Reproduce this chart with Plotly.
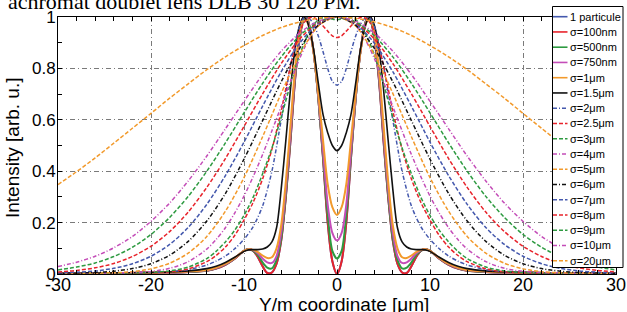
import plotly.graph_objects as go

# ---------------- data (half profiles, x >= 0; the chart is symmetric) ----------------
X_NARROW = [0, 0.5, 1, 1.5, 2, 2.5, 3, 3.3, 3.6, 4, 4.5, 5, 5.5, 6, 6.5, 7, 7.5,
            8, 8.5, 9, 9.5, 10, 11, 12, 13, 14, 16, 18, 20, 22, 25, 30]
X_MID = [0, 0.5, 1, 1.5, 2, 2.5, 3, 3.5, 4, 4.5, 5, 6, 7, 8, 9, 10, 11, 12, 13,
         14, 16, 18, 20, 22, 25, 30]
X_WIDE = [0, 2, 4, 6, 8, 10, 12, 14, 16, 18, 20, 22, 24, 26, 28, 30]

Y_1PART = [0, .05, .2, .45, .68, .86, .97, 1.0, .99, .92, .76, .52, .30, .13, .04, .006, .004,
           .03, .065, .09, .097, .09, .06, .036, .021, .013, .008, .006, .005, .004, .003, .002]
Y_100NM = [0, .05, .2, .45, .68, .86, .97, 1.0, .99, .92, .76, .52, .30, .13, .04, .006, .004,
           .03, .065, .09, .097, .09, .06, .036, .021, .013, .008, .006, .005, .004, .003, .002]
Y_500NM = [.06, .09, .23, .46, .68, .86, .97, 1.0, .99, .925, .77, .535, .31, .14, .055, .022, .025,
           .045, .073, .09, .097, .09, .061, .037, .022, .014, .008, .006, .005, .004, .003, .002]
Y_750NM = [.13, .16, .27, .48, .69, .86, .965, .995, 1.0, .93, .78, .55, .33, .16, .07, .043, .045,
           .06, .08, .092, .096, .09, .062, .038, .023, .015, .009, .006, .005, .004, .003, .002]
Y_1UM = [.23, .26, .35, .52, .70, .86, .96, .99, 1.0, .94, .80, .58, .36, .19, .10, .065, .062,
         .072, .085, .094, .096, .09, .063, .04, .025, .016, .01, .007, .005, .004, .003, .002]
Y_1P5UM = [.48, .50, .55, .62, .74, .87, .96, .99, 1.0, .97, .88, .72, .52, .33, .18, .125, .105,
           .097, .095, .095, .094, .088, .065, .045, .03, .021, .012, .008, .006, .005, .004, .003]

Y_2UM = [.735, .75, .80, .865, .925, .97, .995, .998, .965, .90, .81, .60, .40, .265, .185, .135,
         .098, .07, .05, .035, .017, .009, .006, .004, .003, .002]
Y_2P5UM = [.92, .927, .945, .965, .985, .998, .997, .98, .945, .885, .81, .635, .485, .37, .28, .21,
           .15, .105, .072, .048, .02, .009, .005, .004, .003, .002]
Y_3UM = [.99, .992, .995, .997, .99, .97, .94, .90, .855, .80, .74, .61, .49, .39, .30, .228,
         .17, .125, .088, .06, .027, .012, .006, .004, .003, .002]
Y_4UM = [1.0, .998, .993, .983, .967, .945, .915, .88, .84, .795, .748, .652, .557, .465, .38, .303,
         .237, .18, .134, .097, .048, .022, .01, .006, .004, .003]

Y_5UM = [1, .965, .855, .703, .534, .375, .244, .146, .081, .042, .020, .009, .005, .004, .003, .003]
Y_6UM = [1, .968, .879, .748, .597, .447, .313, .206, .127, .073, .040, .021, .011, .006, .004, .003]
Y_7UM = [1, .974, .899, .787, .653, .513, .383, .271, .181, .115, .069, .040, .022, .012, .007, .004]
Y_8UM = [1, .978, .915, .819, .701, .574, .449, .337, .241, .165, .108, .068, .041, .024, .014, .008]
Y_9UM = [1, .981, .928, .845, .742, .627, .510, .400, .302, .220, .154, .104, .068, .043, .027, .016]
Y_10UM = [1, .984, .938, .867, .776, .672, .565, .459, .362, .276, .205, .146, .102, .069, .046, .029]
Y_20UM = [1, .995, .981, .959, .928, .889, .845, .795, .740, .684, .625, .567, .509, .452, .398, .348]

NAMES = ["1 particule", "σ=100nm", "σ=500nm", "σ=750nm", "σ=1μm", "σ=1.5μm", "σ=2μm",
         "σ=2.5μm", "σ=3μm", "σ=4μm", "σ=5μm", "σ=6μm", "σ=7μm", "σ=8μm", "σ=9μm",
         "σ=10μm", "σ=20μm"]

X_TICKS = [-30, -20, -10, 0, 10, 20, 30]
X_TICK_TEXT = ["-30", "-20", "-10", "0", "10", "20", "30"]
Y_TICKS = [0, 0.2, 0.4, 0.6, 0.8, 1.0]
Y_TICK_TEXT = ["0", "0.2", "0.4", "0.6", "0.8", "1"]

# ---------------- styles ----------------
BLUE, RED, GREEN, MAG, ORA, BLK = "#4458ad", "#e8232b", "#2d9a40", "#c44db8", "#f29a2c", "#111111"
DASH = "4px,2px"
DDOT = "4px,2px,1px,2px"

SERIES = [
    (X_NARROW, Y_1PART, BLUE, "solid", 2.0),
    (X_NARROW, Y_100NM, RED, "solid", 2.0),
    (X_NARROW, Y_500NM, GREEN, "solid", 2.0),
    (X_NARROW, Y_750NM, MAG, "solid", 2.0),
    (X_NARROW, Y_1UM, ORA, "solid", 2.0),
    (X_NARROW, Y_1P5UM, BLK, "solid", 1.6),
    (X_MID, Y_2UM, BLUE, DDOT, 1.5),
    (X_MID, Y_2P5UM, RED, DASH, 1.5),
    (X_MID, Y_3UM, GREEN, DASH, 1.5),
    (X_MID, Y_4UM, MAG, DDOT, 1.5),
    (X_WIDE, Y_5UM, ORA, DASH, 1.5),
    (X_WIDE, Y_6UM, BLK, DDOT, 1.5),
    (X_WIDE, Y_7UM, BLUE, DASH, 1.5),
    (X_WIDE, Y_8UM, RED, DASH, 1.5),
    (X_WIDE, Y_9UM, GREEN, DASH, 1.5),
    (X_WIDE, Y_10UM, MAG, DDOT, 1.5),
    (X_WIDE, Y_20UM, ORA, DASH, 1.5),
]


def mirror(xs, ys):
    return [-v for v in reversed(xs[1:])] + list(xs), list(reversed(ys[1:])) + list(ys)


fig = go.Figure()
for name, (xs, ys, col, dash, w) in zip(NAMES, SERIES):
    fx, fy = mirror(xs, ys)
    fig.add_trace(go.Scatter(x=fx, y=fy, mode="lines", name=name, showlegend=False,
                             line=dict(color=col, dash=dash, width=w, shape="spline", smoothing=0.8)))

# ---------------- layout geometry (pixels) ----------------
W, H = 627, 312
L, R, T, B = 58, 11, 17, 38
PW, PH = W - L - R, H - T - B


def xp(px):
    return (px - L) / PW


def yp(py):
    return (H - B - py) / PH


FONT = "Liberation Sans, Arial, sans-serif"
GRID = dict(showgrid=True, gridcolor="#7a7a7a", gridwidth=1, griddash="5px,3px,1px,3px")

fig.update_layout(
    width=W, height=H, margin=dict(l=L, r=R, t=T, b=B, autoexpand=False),
    paper_bgcolor="white", plot_bgcolor="white", showlegend=False,
    font=dict(family=FONT, color="black"),
    xaxis=dict(range=[-30, 30], tickmode="array", tickvals=X_TICKS, ticktext=X_TICK_TEXT,
               ticks="inside", ticklen=4, tickcolor="black", showline=True, linecolor="black",
               linewidth=1, mirror="ticks", zeroline=False, automargin=False,
               ticklabelstandoff=-6, tickfont=dict(size=18, color="black"),
               minor=dict(tickmode="array", tickvals=[v for v in range(-28, 30, 2) if v % 10],
                          ticks="inside", ticklen=4, tickcolor="black", showgrid=False),
               **GRID),
    yaxis=dict(range=[0, 1], tickmode="array", tickvals=Y_TICKS, ticktext=Y_TICK_TEXT,
               ticks="inside", ticklen=4, tickcolor="black", showline=True, linecolor="black",
               linewidth=1, mirror="ticks", zeroline=False, automargin=False,
               ticklabelstandoff=-2, tickfont=dict(size=17, color="black"),
               minor=dict(tickmode="array", tickvals=[0.1, 0.3, 0.5, 0.7, 0.9],
                          ticks="inside", ticklen=4, tickcolor="black", showgrid=False),
               **GRID),
)

shapes = [dict(type="rect", xref="paper", yref="paper", x0=xp(552.5), x1=xp(623),
               y0=yp(267.5), y1=yp(6.5), fillcolor="white", line=dict(color="black", width=1),
               layer="above")]
annotations = []
for i, (name, (xs, ys, col, dash, w)) in enumerate(zip(NAMES, SERIES)):
    py = 16.7 + 15.25 * i
    shapes.append(dict(type="line", xref="paper", yref="paper", x0=xp(553), x1=xp(567.5),
                       y0=yp(py), y1=yp(py), line=dict(color=col, dash=dash, width=min(w, 1.6)),
                       layer="above"))
    annotations.append(dict(text=name, xref="paper", yref="paper", x=xp(567.5), y=yp(py),
                            xanchor="left", yanchor="middle", showarrow=False,
                            font=dict(size=11, family=FONT, color="black")))

annotations += [
    dict(text="achromat doublet lens DLB 30 120 PM.", xref="paper", yref="paper",
         x=xp(6), y=yp(16), xanchor="left", yanchor="bottom", showarrow=False,
         font=dict(size=22, family="Liberation Serif, Times New Roman, serif", color="black")),
    dict(text="Intensity [arb. u.]", xref="paper", yref="paper", x=xp(12), y=yp(148),
         xanchor="center", yanchor="middle", textangle=-90, showarrow=False,
         font=dict(size=19, family=FONT, color="black")),
    dict(text="Y/m coordinate [μm]", xref="paper", yref="paper", x=xp(344), y=yp(304),
         xanchor="center", yanchor="middle", showarrow=False,
         font=dict(size=19, family=FONT, color="black")),
]
fig.update_layout(shapes=shapes, annotations=annotations)

# remove the default 8px page margin so the 627x312 figure fills the window exactly
fig.write_html("out.html", config={"displayModeBar": False},
               post_script="document.body.style.margin='0px';")
